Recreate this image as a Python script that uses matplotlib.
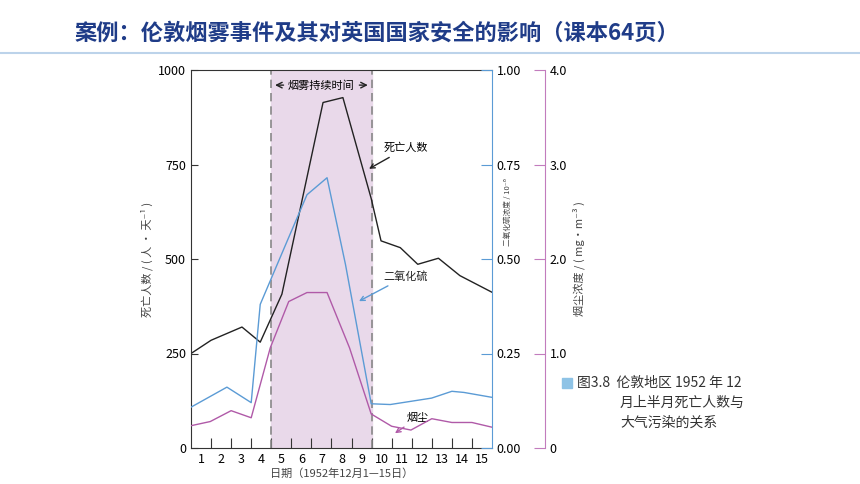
import matplotlib
matplotlib.use("Agg")
import matplotlib.pyplot as plt
from matplotlib.patches import Rectangle

plt.rcParams['font.family'] = ['Noto Sans CJK SC', 'DejaVu Sans']

death_x = [0, 1, 2.54, 3.45, 4.53, 6.58, 7.57, 8.98, 9.47, 10.43, 11.3, 12.33, 13.4, 15]
death_y = [250, 285, 320, 280, 407, 914, 927, 660, 548, 530, 486, 502, 456, 412]
so2_x = [0, 1.79, 3, 3.45, 4.78, 5.78, 6.78, 7.7, 8.98, 9.93, 10.9, 11.99, 13, 13.6, 15]
so2_y = [0.108, 0.161, 0.12, 0.38, 0.546, 0.67, 0.715, 0.485, 0.117, 0.115, 0.123, 0.132, 0.15, 0.147, 0.134]
smoke_x = [0, 0.96, 2, 3, 3.95, 4.87, 5.78, 6.78, 7.9, 8.98, 10, 10.96, 12, 13, 14, 15]
smoke_y = [0.236, 0.28, 0.395, 0.32, 1.06, 1.55, 1.645, 1.645, 1.06, 0.36, 0.23, 0.19, 0.31, 0.27, 0.27, 0.22]
day_labels = [str(d) for d in range(1, 16)]

W, H = 860, 484
fig = plt.figure(figsize=(W/100, H/100), dpi=100)
fig.patch.set_facecolor('white')

fig.text(75/W, 1-33/H, '案例：伦敦烟雾事件及其对英国国家安全的影响（课本64页）',
         fontsize=16, fontweight='bold', color='#1f3c88', va='center')
fig.add_artist(plt.Line2D([0, 1], [1-53/H, 1-53/H], color='#bcd3ea', lw=1.5))

l, r, t, b = 191, 492, 70, 448
ax = fig.add_axes([l/W, 1-b/H, (r-l)/W, (b-t)/H])
ax.set_xlim(0, 15)
ax.set_ylim(0, 1000)
ax.axvspan(4, 9, color='#e9d9ea', zorder=0)
for xv in (4, 9):
    ax.axvline(xv, color='#888888', ls=(0, (5, 3)), lw=1.2)
ax.plot(death_x, death_y, color='#222222', lw=1)
ax.set_yticks([0, 250, 500, 750, 1000])
ax.tick_params(axis='y', direction='in', length=5, labelsize=9, color='#333')
ax.set_xticks(range(1, 15))
ax.set_xticks([d - 0.5 for d in range(1, 16)], minor=True)
ax.set_xticklabels([])
ax.set_xticklabels(day_labels, minor=True)
ax.tick_params(axis='x', which='major', direction='in', length=7, color='#333')
ax.tick_params(axis='x', which='minor', length=0, labelsize=9)
ax.set_ylabel('死亡人数 / ( 人 · 天⁻¹ )', fontsize=8, color='#444')
ax.set_xlabel('日期（1952年12月1—15日）', fontsize=8, color='#444', labelpad=2)
for s in ('left', 'top', 'bottom'):
    ax.spines[s].set_color('#333')
ax.spines['right'].set_visible(False)

ax.annotate('', xy=(4.05, 960), xytext=(4.75, 960),
            arrowprops=dict(arrowstyle='->', color='#222', lw=1))
ax.annotate('', xy=(8.95, 960), xytext=(8.25, 960),
            arrowprops=dict(arrowstyle='->', color='#222', lw=1))
ax.text(6.5, 960, '烟雾持续时间', ha='center', va='center', fontsize=8)
ax.annotate('死亡人数', xy=(8.75, 735), xytext=(9.6, 785), fontsize=8,
            arrowprops=dict(arrowstyle='->', color='#222', lw=1))
ax.annotate('二氧化硫', xy=(8.25, 385), xytext=(9.6, 445), fontsize=8, color='#222',
            arrowprops=dict(arrowstyle='->', color='#5b9bd5', lw=1))
ax.annotate('烟尘', xy=(10.05, 35), xytext=(10.75, 72), fontsize=8,
            arrowprops=dict(arrowstyle='->', color='#b05aa8', lw=1))

ax2 = ax.twinx()
ax2.set_ylim(0, 1)
ax2.plot(so2_x, so2_y, color='#5b9bd5', lw=1)
ax2.set_yticks([0, 0.25, 0.5, 0.75, 1.0])
ax2.set_yticklabels(['0.00', '0.25', '0.50', '0.75', '1.00'])
ax2.tick_params(axis='y', direction='in', length=8, color='#5b9bd5', labelsize=9)
ax2.spines['right'].set_color('#5b9bd5')
for s in ('left', 'top', 'bottom'):
    ax2.spines[s].set_visible(False)
ax2.set_ylabel('二氧化硫浓度 / 10⁻⁶', fontsize=5.5, color='#444')
ax2.yaxis.set_label_coords(1.04, 0.625)

ax3 = ax.twinx()
ax3.set_ylim(0, 4)
ax3.plot(smoke_x, smoke_y, color='#b05aa8', lw=1)
ax3.spines['right'].set_position(('outward', 38))
ax3.spines['right'].set_color('#c27cbd')
for s in ('left', 'top', 'bottom'):
    ax3.spines[s].set_visible(False)
ax3.set_yticks([0, 1, 2, 3, 4])
ax3.set_yticklabels(['0', '1.0', '2.0', '3.0', '4.0'])
ax3.tick_params(axis='y', direction='in', length=8, color='#c27cbd', labelsize=9)
ax3.set_ylabel('烟尘浓度 / ( mg·m⁻³ )', fontsize=8, color='#444')

fig.add_artist(Rectangle((562/W, 1-388/H), 10/W, 10/H, color='#8ec3e6',
                         transform=fig.transFigure))
fig.text(577/W, 1-383/H, '图3.8  伦敦地区 1952 年 12', fontsize=10, va='center', color='#333')
fig.text(620/W, 1-403/H, '月上半月死亡人数与', fontsize=10, va='center', color='#333')
fig.text(620/W, 1-423/H, '大气污染的关系', fontsize=10, va='center', color='#333')

fig.savefig('out.png', dpi=100)
